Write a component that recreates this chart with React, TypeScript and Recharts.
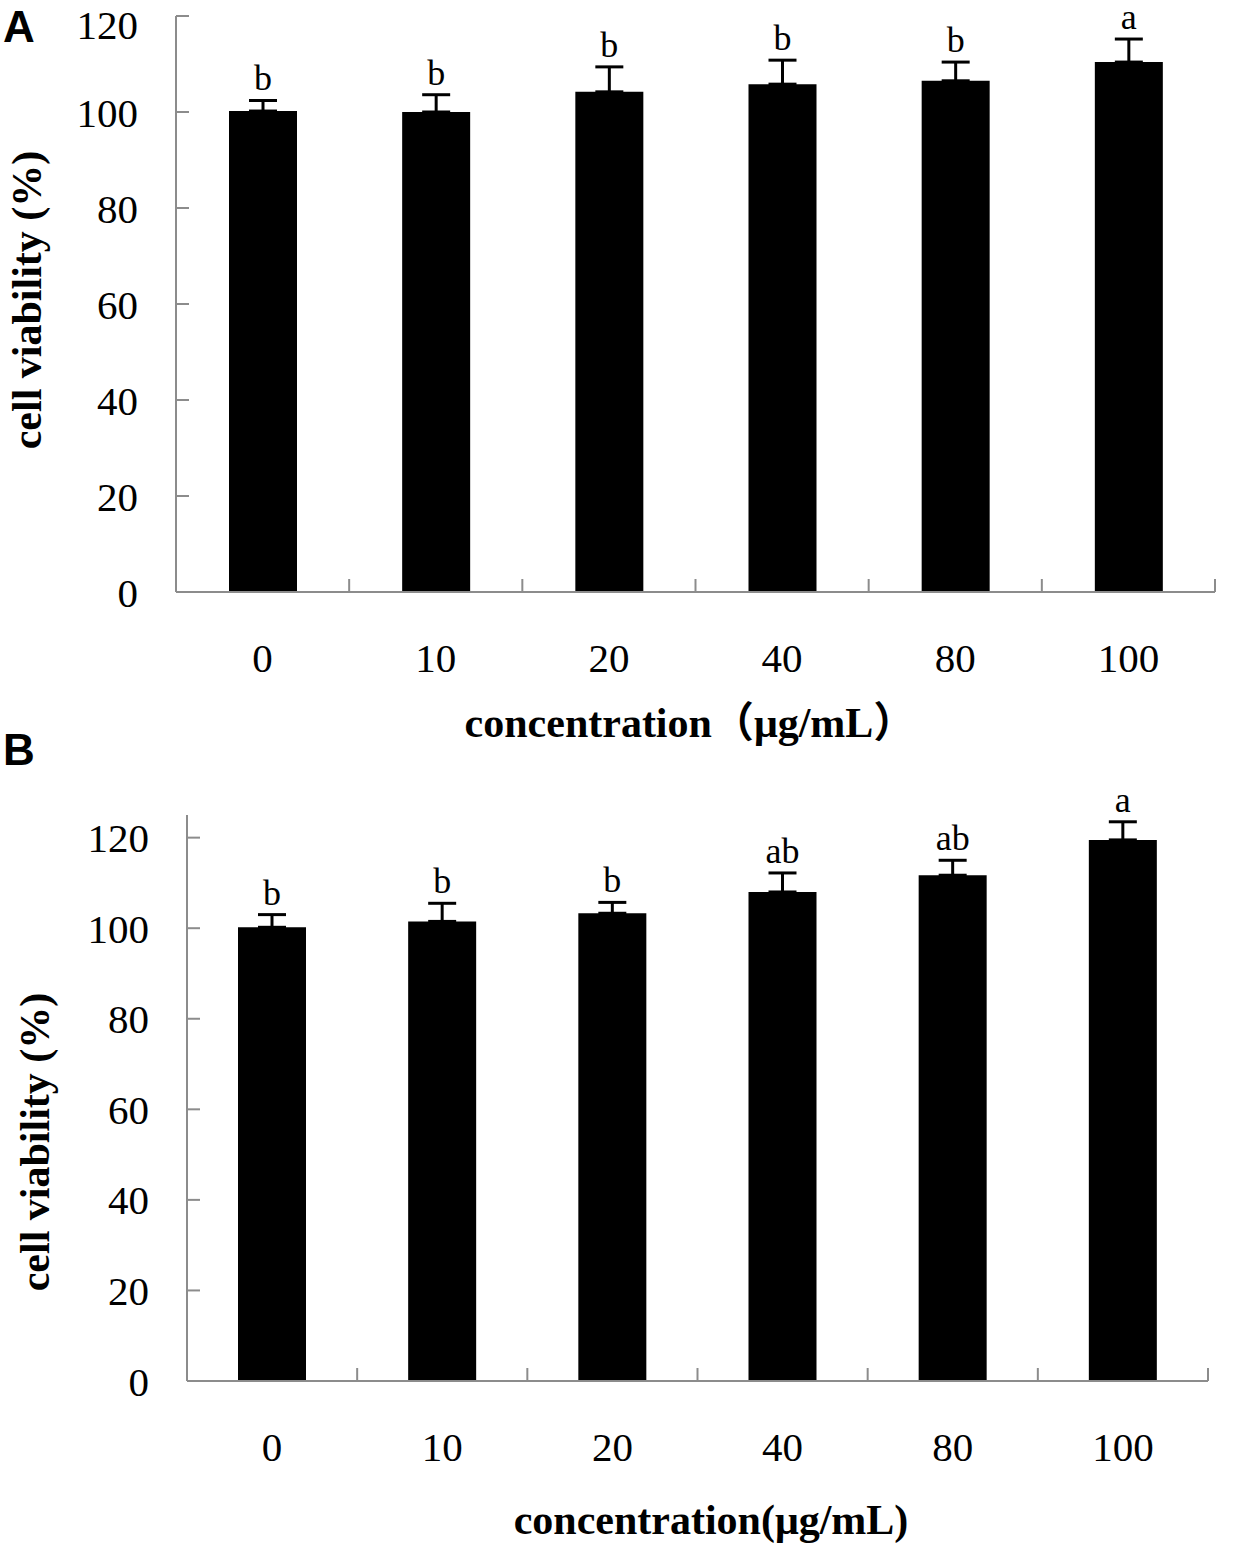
import React from 'react';
import { BarChart, Bar, XAxis, YAxis, ErrorBar, LabelList } from 'recharts';

const categories = ['0', '10', '20', '40', '80', '100'];
const viabilityA = [100.2, 100.0, 104.2, 105.8, 106.5, 110.4];
const sdA = [2.2, 3.6, 5.2, 5.0, 3.9, 4.8];
const lettersA = ['b', 'b', 'b', 'b', 'b', 'a'];
const viabilityB = [100.2, 101.5, 103.3, 108.0, 111.7, 119.5];
const sdB = [2.8, 4.0, 2.4, 4.2, 3.3, 4.0];
const lettersB = ['b', 'b', 'b', 'ab', 'ab', 'a'];
const yTicks = [0, 20, 40, 60, 80, 100, 120];

const SERIF = '"Liberation Serif", "Times New Roman", "Noto Sans CJK SC", serif';
const SANS = '"Liberation Sans", Arial, sans-serif';
const AXIS = '#8c8c8c';

const build = (vals: number[], sds: number[], letters: string[]) =>
  categories.map((c, i) => ({ conc: c, value: vals[i], err: [0, sds[i]], letter: letters[i] }));

const dataA = build(viabilityA, sdA, lettersA);
const dataB = build(viabilityB, sdB, lettersB);

const makeXTick = (bandHalf: number) => (props: any) => {
  const { x, y, payload } = props;
  const off = payload && typeof payload.offset === 'number' && payload.offset > 0 ? payload.offset : bandHalf;
  return (
    <g>
      <line x1={x + off} x2={x + off} y1={y} y2={y - 13} stroke={AXIS} strokeWidth={2} />
      <text x={x} y={y + 65} dy="0.355em" textAnchor="middle" fontFamily={SERIF} fontSize={41} fill="#000">
        {payload.value}
      </text>
    </g>
  );
};

const makeLetter = (vals: number[], sds: number[], letters: string[]) => (props: any) => {
  const vb = props.viewBox || props;
  const x = Number(props.x ?? vb.x);
  const y = Number(props.y ?? vb.y);
  const w = Number(props.width ?? vb.width);
  const h = Number(props.height ?? vb.height);
  const i = props.index;
  const errPx = (sds[i] * h) / vals[i];
  return (
    <text x={x + w / 2} y={y - errPx - 10} textAnchor="middle" fontFamily={SERIF} fontSize={36} fill="#000">
      {letters[i]}
    </text>
  );
};

type PanelProps = {
  data: any[];
  vals: number[];
  sds: number[];
  letters: string[];
  height: number;
  margin: { top: number; right: number; bottom: number; left: number };
  yWidth: number;
  xHeight: number;
  domainMax: number;
  yTitleX: number;
  yTitleY: number;
  xTitle: string;
  xTitleX: number;
  xTitleY: number;
};

function Panel(p: PanelProps) {
  const W = 1236;
  const plotW = W - p.margin.left - p.margin.right - p.yWidth;
  return (
    <BarChart width={W} height={p.height} data={p.data} margin={p.margin} barCategoryGap={0}>
      <XAxis
        dataKey="conc"
        height={p.xHeight}
        axisLine={{ stroke: AXIS, strokeWidth: 2 }}
        tickLine={false}
        tickSize={0}
        tickMargin={0}
        interval={0}
        tick={makeXTick(plotW / 12)}
        label={() => (
          <text x={p.xTitleX} y={p.xTitleY} textAnchor="middle" fontFamily={SERIF} fontWeight="bold" fontSize={42} fill="#000">
            {p.xTitle}
          </text>
        )}
      />
      <YAxis
        type="number"
        domain={[0, p.domainMax]}
        ticks={yTicks}
        width={p.yWidth}
        axisLine={{ stroke: AXIS, strokeWidth: 2 }}
        tickLine={{ stroke: AXIS, strokeWidth: 2 }}
        tickSize={-13}
        tickMargin={51}
        tick={{ fontFamily: SERIF, fontSize: 41, fill: '#000' }}
        label={() => (
          <text
            x={p.yTitleX}
            y={p.yTitleY}
            transform={`rotate(-90 ${p.yTitleX} ${p.yTitleY})`}
            textAnchor="middle"
            fontFamily={SERIF}
            fontWeight="bold"
            fontSize={42}
            fill="#000"
          >
            cell viability (%)
          </text>
        )}
      />
      <Bar dataKey="value" fill="#000" barSize={68} isAnimationActive={false}>
        <ErrorBar dataKey="err" width={14} stroke="#000" strokeWidth={3} direction="y" />
        <LabelList dataKey="letter" content={makeLetter(p.vals, p.sds, p.letters)} />
      </Bar>
    </BarChart>
  );
}

export default function App() {
  return (
    <div style={{ position: 'absolute', left: 0, top: 0, width: 1236, height: 1547, background: '#fff' }}>
      <div style={{ position: 'absolute', left: 0, top: 0 }}>
        <Panel
          data={dataA}
          vals={viabilityA}
          sds={sdA}
          letters={lettersA}
          height={770}
          margin={{ top: 16, right: 21, bottom: 0, left: 0 }}
          yWidth={176}
          xHeight={178}
          domainMax={120}
          yTitleX={41}
          yTitleY={300}
          xTitle="concentration（μg/mL）"
          xTitleX={690}
          xTitleY={737}
        />
      </div>
      <div style={{ position: 'absolute', left: 0, top: 770 }}>
        <Panel
          data={dataB}
          vals={viabilityB}
          sds={sdB}
          letters={lettersB}
          height={777}
          margin={{ top: 45, right: 28, bottom: 0, left: 0 }}
          yWidth={187}
          xHeight={166}
          domainMax={125}
          yTitleX={49}
          yTitleY={372}
          xTitle="concentration(μg/mL)"
          xTitleX={711}
          xTitleY={764}
        />
      </div>
      <svg width={1236} height={1547} style={{ position: 'absolute', left: 0, top: 0, pointerEvents: 'none' }}>
        <text x={3} y={42} fontFamily={SANS} fontWeight="bold" fontSize={44} fill="#000">A</text>
        <text x={3} y={765} fontFamily={SANS} fontWeight="bold" fontSize={44} fill="#000">B</text>
      </svg>
    </div>
  );
}
